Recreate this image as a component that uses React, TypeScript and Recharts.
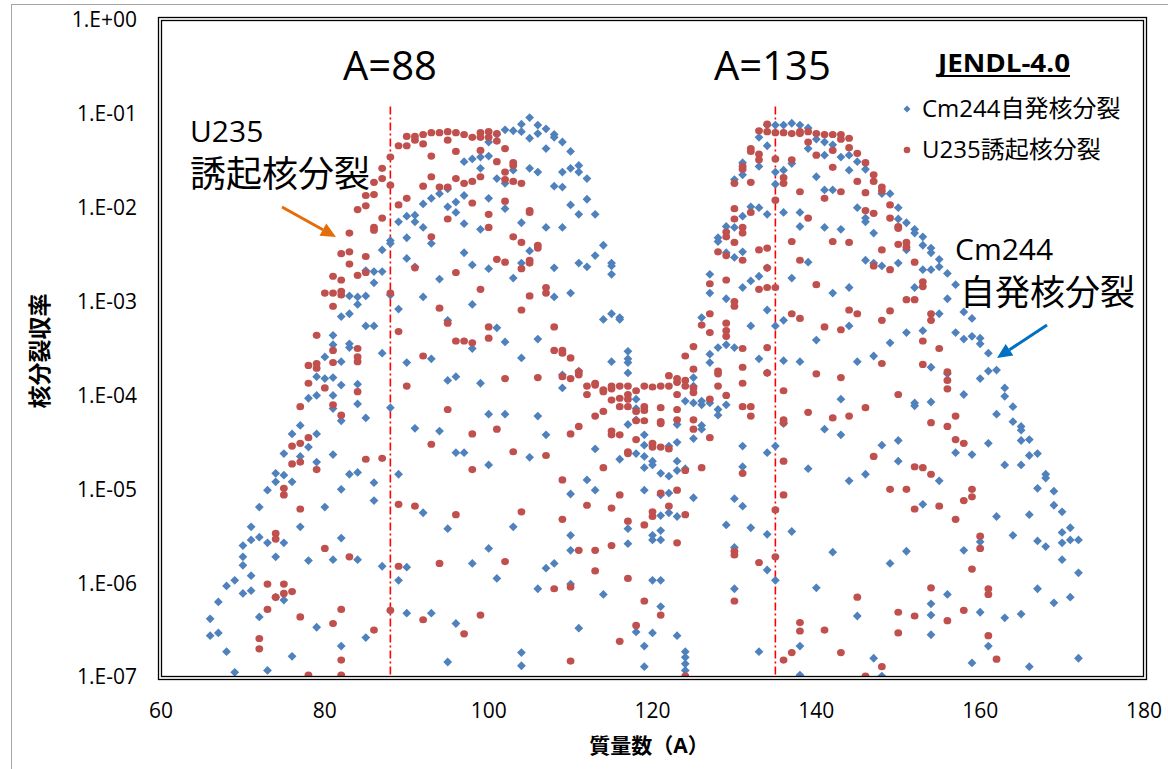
import React from 'react';
import { ScatterChart, Scatter, XAxis, YAxis, ReferenceLine } from 'recharts';

type Column = [number, number[]];

// log10 of the independent fission yield, grouped by mass number A
const cm244Light: Column[] = [
  [66, [-6.38, -6.56]],
  [67, [-6.20, -6.53]],
  [68, [-6.03, -6.73]],
  [69, [-5.97, -6.95]],
  [70, [-5.60, -5.72, -5.81, -6.11]],
  [71, [-5.40, -5.54, -5.92, -6.08]],
  [72, [-5.19, -5.51, -6.36]],
  [73, [-5.01, -5.57, -6.93]],
  [74, [-4.83, -4.92, -5.72, -6.15]],
  [75, [-4.62, -4.85, -5.57, -6.18]],
  [76, [-4.41, -4.92, -6.78]],
  [77, [-4.32, -4.65, -5.40]],
  [78, [-4.03, -4.55, -5.76]],
  [79, [-3.80, -4.00, -4.41, -4.71, -6.47]],
  [80, [-3.59, -3.82, -5.19]],
  [81, [-3.36, -3.46, -3.81, -4.00, -4.14, -4.63, -5.75]],
  [82, [-3.16, -3.64, -3.89, -4.27, -5.00, -5.52, -6.67]],
  [83, [-2.94, -3.13, -3.45, -3.49, -4.84]],
  [84, [-2.95, -3.03, -3.88, -4.09, -4.82, -5.75]],
  [85, [-2.67, -2.94, -3.26, -4.24, -6.58]],
  [86, [-2.68, -2.80, -3.26, -4.93, -5.12]],
  [87, [-2.45, -2.68, -3.55, -5.82]],
  [88, [-2.35, -2.38, -2.93, -4.13]],
  [89, [-2.15, -3.08, -4.84, -5.97]],
  [90, [-2.09, -2.32, -2.54, -3.65, -5.83, -6.32]],
  [91, [-2.08, -2.15, -2.63, -4.35]],
  [92, [-1.96, -2.21, -2.95, -5.25]],
  [93, [-1.90, -2.38, -3.61, -6.32]],
  [94, [-1.85, -2.76, -4.38]],
  [95, [-1.80, -1.99, -3.20, -3.84, -5.42, -6.84]],
  [96, [-1.94, -2.05, -3.80, -4.61, -6.43]],
  [97, [-1.51, -1.87, -2.17, -2.48, -4.61]],
  [98, [-1.48, -2.61, -3.03, -3.50, -5.79]],
  [99, [-1.46, -1.58, -2.23, -3.87]],
  [100, [-1.30, -1.45, -1.90, -2.65, -4.20, -4.74, -5.63]],
  [101, [-1.22, -1.69, -3.28, -5.95]],
  [102, [-1.17, -1.74, -2.01, -3.43, -4.20]],
  [103, [-1.18, -1.60, -2.75, -5.40]],
  [104, [-1.11, -1.19, -2.16, -2.59, -3.60, -6.74, -6.88]],
  [105, [-1.04, -1.26, -1.58, -2.46, -4.66]],
  [106, [-1.12, -1.21, -1.62, -3.40, -4.22, -6.06]],
  [107, [-1.16, -1.37, -2.21, -4.42, -5.84]],
  [108, [-1.22, -1.25, -1.77, -2.64, -2.95, -5.79]],
  [109, [-1.30, -1.62, -1.78, -2.21, -3.78, -3.92]],
  [110, [-1.40, -1.58, -1.97, -2.91, -5.05, -5.49, -5.65, -6.01]],
  [111, [-1.55, -1.62, -2.07, -2.59, -3.74, -6.48]],
  [112, [-1.69, -1.91, -2.63, -4.90]],
  [113, [-2.07, -2.51, -4.57, -5.01]],
  [114, [-2.40, -3.19, -6.12]],
  [115, [-2.59, -2.62, -2.71, -3.13, -3.64]],
  [116, [-3.17, -3.19, -4.68]],
  [117, [-3.53, -3.61, -3.65, -3.76, -4.31, -5.42, -5.58]],
  [118, [-4.04, -4.14, -4.26, -4.62, -6.52]],
];

const cm244Heavy: Column[] = [
  [119, [-4.42, -4.53, -4.65, -4.77, -5.01, -6.67, -6.89]],
  [120, [-4.70, -4.74, -5.49, -5.54, -5.97, -6.53]],
  [121, [-4.83, -5.06, -5.28, -5.44, -5.54, -5.97, -6.25]],
  [122, [-4.54, -4.86, -5.04, -5.25]],
  [123, [-4.31, -4.50, -4.70, -4.80, -5.29, -6.56]],
  [124, [-4.06, -4.78, -6.73, -6.79, -6.86, -6.93]],
  [125, [-3.81, -3.90, -4.08, -4.46, -5.09]],
  [126, [-3.17, -4.06, -4.10, -4.32, -4.36]],
  [127, [-2.71, -2.91, -3.56, -3.65, -4.08]],
  [128, [-2.32, -2.36, -3.49, -4.15, -4.21]],
  [129, [-2.20, -2.48, -2.97, -3.46, -4.10, -5.38]],
  [130, [-1.70, -2.21, -2.53, -3.49, -5.10, -5.62, -6.06]],
  [131, [-1.52, -1.65, -2.09, -2.47, -2.85, -4.54, -4.76, -5.18]],
  [132, [-1.99, -2.78, -3.26, -5.41]],
  [133, [-1.25, -1.56, -2.00, -2.73, -3.61, -6.73]],
  [134, [-1.12, -1.34, -2.07, -2.64, -3.09, -3.76, -4.61, -5.48, -5.86]],
  [135, [-1.12, -1.62, -1.75, -3.26, -4.54, -5.97]],
  [136, [-1.12, -1.60, -2.05, -3.20, -3.63, -4.30]],
  [137, [-1.10, -1.53, -2.75, -5.45]],
  [138, [-1.12, -2.05, -2.20, -3.64, -6.67, -6.98]],
  [139, [-1.15, -1.37, -2.58, -4.78]],
  [140, [-1.27, -1.67, -3.41, -6.05]],
  [141, [-1.30, -1.44, -1.81, -2.21, -4.36]],
  [142, [-1.33, -1.81, -2.91, -5.67]],
  [143, [-1.46, -2.23, -4.04, -4.42]],
  [144, [-1.44, -1.60, -2.85, -3.26, -4.91]],
  [145, [-1.51, -2.00, -3.64, -6.35]],
  [146, [-1.59, -2.11, -2.15, -2.56, -4.84]],
  [147, [-2.27, -2.59, -3.58, -6.80]],
  [148, [-1.85, -2.62, -4.53, -6.99]],
  [149, [-1.85, -3.44, -5.79]],
  [150, [-2.00, -2.12, -2.59, -4.48, -4.70]],
  [151, [-2.16, -2.45, -3.33, -5.66]],
  [152, [-2.23, -2.27, -2.85, -4.08, -4.11]],
  [153, [-2.31, -2.40, -2.66, -3.31, -5.16]],
  [154, [-2.43, -2.48, -2.66, -3.70, -4.07, -6.22, -6.34, -6.55]],
  [155, [-2.55, -2.63, -3.13, -4.91]],
  [156, [-2.70, -2.97, -3.77, -6.12]],
  [157, [-2.82, -3.33, -4.61]],
  [158, [-3.11, -3.40, -3.99, -5.65]],
  [159, [-3.18, -3.37, -4.63, -6.85]],
  [160, [-3.39, -3.45, -3.82, -5.56, -6.31]],
  [161, [-3.55, -3.74, -4.51, -6.67]],
  [162, [-3.73, -4.20, -5.29]],
  [163, [-3.92, -4.01, -4.74, -6.37]],
  [164, [-4.12, -4.28, -5.49]],
  [165, [-4.33, -4.37, -4.48, -4.74, -6.33]],
  [166, [-4.47, -4.64, -5.27, -6.89]],
  [167, [-4.62, -4.99, -5.55, -6.06]],
  [168, [-4.84, -4.88, -5.61]],
  [169, [-5.02, -5.17, -6.21]],
  [170, [-5.24, -5.46, -5.57, -5.75]],
  [171, [-5.41, -5.54, -6.15]],
  [172, [-5.54, -5.89, -6.80]],
];

const u235Light: Column[] = [
  [72, [-6.59, -6.70]],
  [73, [-6.01, -6.28]],
  [74, [-5.47, -5.53, -6.15]],
  [75, [-4.99, -5.06, -6.01, -6.11]],
  [76, [-4.54, -4.73, -6.09]],
  [77, [-4.12, -4.51, -4.71, -5.21, -6.36]],
  [78, [-3.68, -3.87, -4.45, -6.98]],
  [79, [-3.36, -3.66, -3.71, -4.79]],
  [80, [-2.91, -3.92, -5.63]],
  [81, [-2.73, -2.91, -3.05, -3.52, -3.65, -4.10, -6.43]],
  [82, [-2.49, -2.77, -2.89, -2.93, -4.21, -6.28, -6.82, -6.98]],
  [83, [-2.27, -2.47, -2.60, -5.72]],
  [84, [-2.02, -2.72, -3.50, -3.59, -3.64, -3.96]],
  [85, [-1.87, -1.98, -2.52, -2.69, -4.68]],
  [86, [-1.73, -1.86, -2.21, -2.24, -6.50]],
  [87, [-1.58, -1.69, -2.11, -4.67]],
  [88, [-1.46, -1.76, -2.91, -6.29]],
  [89, [-1.34, -1.97, -3.32, -5.16, -5.82]],
  [90, [-1.24, -1.34, -1.90, -3.90]],
  [91, [-1.24, -1.28, -2.64, -5.18]],
  [92, [-1.22, -1.32, -1.77, -3.58, -6.39]],
  [93, [-1.20, -1.45, -1.67, -2.31, -4.52]],
  [94, [-1.20, -1.78, -3.07, -5.79]],
  [95, [-1.19, -1.28, -1.78, -2.12, -3.23, -4.15]],
  [96, [-1.20, -1.40, -1.69, -2.69, -3.42, -5.27]],
  [97, [-1.22, -1.74, -3.42, -6.54]],
  [98, [-1.25, -1.72, -1.95, -3.44, -4.41, -4.79]],
  [99, [-1.20, -1.25, -1.39, -1.67, -2.87, -6.34]],
  [100, [-1.19, -1.25, -2.07, -2.21, -3.27, -3.39]],
  [101, [-1.21, -1.29, -1.51, -2.55, -4.36]],
  [102, [-1.37, -1.62, -1.70, -1.93, -2.58, -3.82, -5.77]],
  [103, [-1.52, -1.55, -1.72, -2.31, -4.60]],
  [104, [-1.74, -2.37, -2.65, -3.09, -5.24]],
  [105, [-2.03, -2.05, -2.56, -2.59, -2.94]],
  [106, [-2.40, -2.43, -3.81]],
  [107, [-2.85, -2.91, -4.64]],
  [108, [-3.27, -3.52, -6.06]],
  [109, [-3.52, -3.55, -3.80, -4.90, -5.32]],
  [110, [-3.60, -3.82, -4.41, -6.04, -6.83]],
  [111, [-3.75, -3.78, -4.33, -5.65]],
  [112, [-3.90, -3.99, -5.17]],
  [113, [-3.87, -3.89, -4.22, -5.65, -5.87]],
  [114, [-3.94, -3.96, -4.17, -4.77]],
  [115, [-3.90, -3.93, -4.05, -4.38, -4.42, -5.20, -5.60]],
  [116, [-3.90, -4.03, -4.12, -4.42, -5.06, -6.62]],
  [117, [-3.90, -3.99, -4.04, -4.12, -4.60, -4.62, -5.34, -5.95]],
  [118, [-3.95, -4.17, -4.27, -4.47, -6.45]],
];

const u235Heavy: Column[] = [
  [119, [-3.90, -4.12, -4.16, -4.27, -5.38, -6.19]],
  [120, [-3.91, -4.51, -4.55, -5.24, -5.29]],
  [121, [-3.90, -4.13, -4.28, -4.30, -4.55, -5.04, -6.34]],
  [122, [-3.79, -3.90, -4.57, -5.18]],
  [123, [-3.82, -3.86, -3.99, -4.15, -4.26, -5.01, -5.57]],
  [124, [-3.58, -3.84, -3.90, -4.80, -5.27, -6.99]],
  [125, [-3.48, -3.72, -3.92, -3.97, -4.26, -4.36]],
  [126, [-3.25, -4.77]],
  [127, [-2.81, -3.13, -3.33, -4.04, -4.45]],
  [128, [-2.47, -3.74, -3.77, -3.90]],
  [129, [-2.26, -2.31, -2.51, -2.77, -3.23, -3.31, -3.37, -4.00]],
  [130, [-1.74, -2.01, -2.12, -2.37, -3.00, -3.05, -5.66, -5.70, -6.19]],
  [131, [-1.56, -1.59, -2.21, -2.27, -2.56, -3.50, -3.70, -3.87, -4.12, -4.83]],
  [132, [-1.37, -1.40, -1.73, -2.05, -4.12, -4.22]],
  [133, [-1.18, -1.43, -1.49, -2.45, -2.87, -5.78]],
  [134, [-1.11, -1.19, -2.43, -2.64, -2.85, -3.49, -3.76]],
  [135, [-1.20, -1.48, -1.92, -2.85, -5.22, -5.72]],
  [136, [-1.20, -1.68, -1.74, -3.95, -4.26, -4.29, -4.70, -5.06, -6.82]],
  [137, [-1.21, -1.49, -2.36, -3.13, -6.74]],
  [138, [-1.19, -1.21, -1.83, -2.56, -3.18, -6.42, -6.51]],
  [139, [-1.19, -1.30, -2.11, -4.18]],
  [140, [-1.21, -1.44, -2.82, -3.77]],
  [141, [-1.22, -1.90, -3.27, -6.50]],
  [142, [-1.22, -1.39, -1.57, -2.36, -4.24]],
  [143, [-1.22, -1.27, -1.83, -3.30, -3.81, -6.74]],
  [144, [-1.26, -1.36, -2.37, -3.09, -4.22]],
  [145, [-1.42, -1.72, -3.13, -6.15]],
  [146, [-1.52, -1.84, -2.03, -4.13, -6.99]],
  [147, [-1.65, -1.72, -2.06, -2.62, -4.65]],
  [148, [-1.78, -1.82, -2.45, -3.20, -3.66, -6.89]],
  [149, [-1.97, -2.11, -2.66, -3.10, -5.00]],
  [150, [-2.20, -2.22, -2.39, -3.99, -6.31, -6.53]],
  [151, [-2.37, -2.42, -2.98, -5.00]],
  [152, [-2.58, -2.98, -4.76, -5.21, -6.35]],
  [153, [-2.79, -2.84, -3.42, -3.67, -4.77]],
  [154, [-3.13, -3.20, -4.29, -4.84, -6.05]],
  [155, [-3.50, -5.18]],
  [156, [-3.75, -3.84, -3.93, -4.33, -6.40]],
  [157, [-4.22, -4.47, -5.32]],
  [158, [-4.51, -5.12, -6.29]],
  [159, [-5.00, -5.08, -5.85]],
  [160, [-5.50, -5.63]],
  [161, [-6.06, -6.12, -6.56]],
  [162, [-6.81]],
];

const xTicks = [60, 80, 100, 120, 140, 160, 180];
const yTicks = [1, 1e-1, 1e-2, 1e-3, 1e-4, 1e-5, 1e-6, 1e-7];
const peakMasses = [88, 135];

const FONT = "'Open Sans', 'Noto Sans CJK JP', sans-serif";
const BLUE = '#4F81BD';
const RED = '#C0504D';

const toPoints = (cols: Column[]) =>
  cols.flatMap(([a, exps]) => exps.map((e) => ({ a, y: Math.pow(10, e) })));

const cmPoints = toPoints([...cm244Light, ...cm244Heavy]);
const uPoints = toPoints([...u235Light, ...u235Heavy]);

// Excel style "1.E-03" tick labels
const fmtExp = (v: number) => {
  const e = Math.round(Math.log10(v));
  const s = e >= 0 ? '+' : '-';
  return `1.E${s}${String(Math.abs(e)).padStart(2, '0')}`;
};

const Diamond = (props: any) => {
  const { cx, cy } = props;
  const r = 4.4;
  return <path d={`M${cx},${cy - r}L${cx + r},${cy}L${cx},${cy + r}L${cx - r},${cy}Z`} fill={BLUE} />;
};

const Dot = (props: any) => <ellipse cx={props.cx} cy={props.cy} rx={3.9} ry={3.6} fill={RED} />;

// straight arrow with a filled triangular head
const Arrow = ({ x1, y1, x2, y2, color }: { x1: number; y1: number; x2: number; y2: number; color: string }) => {
  const dx = x2 - x1;
  const dy = y2 - y1;
  const len = Math.sqrt(dx * dx + dy * dy);
  const ux = dx / len;
  const uy = dy / len;
  const hl = 15;
  const hw = 7;
  const bx = x2 - ux * hl;
  const by = y2 - uy * hl;
  return (
    <g>
      <line x1={x1} y1={y1} x2={bx} y2={by} stroke={color} strokeWidth={3} />
      <polygon
        points={`${x2},${y2} ${bx - uy * hw},${by + ux * hw} ${bx + uy * hw},${by - ux * hw}`}
        fill={color}
      />
    </g>
  );
};

const App = () => {
  return (
    <div style={{ position: 'absolute', left: 0, top: 0, width: 1168, height: 769, overflow: 'hidden', background: '#fff' }}>
      <ScatterChart width={1168} height={769} margin={{ top: 20, right: 24, bottom: 52, left: 0 }}>
        <XAxis
          type="number"
          dataKey="a"
          domain={[60, 180]}
          ticks={xTicks}
          allowDataOverflow
          axisLine={false}
          tickLine={false}
          tickMargin={20}
          height={40}
          tick={{ fontSize: 21, fill: '#000', fontFamily: FONT }}
        />
        <YAxis
          type="number"
          dataKey="y"
          scale="log"
          domain={[1e-7, 1]}
          ticks={yTicks}
          allowDataOverflow
          axisLine={false}
          tickLine={false}
          tickMargin={18}
          width={161}
          tickFormatter={fmtExp}
          tick={{ fontSize: 21, fill: '#000', fontFamily: FONT }}
        />
        {peakMasses.map((a) => (
          <ReferenceLine
            key={a}
            segment={[{ x: a, y: 0.12 }, { x: a, y: 1e-7 }]}
            stroke="#FF0000"
            strokeWidth={1.6}
            strokeDasharray="8 3 2 3"
          />
        ))}
        <Scatter data={cmPoints} shape={Diamond} isAnimationActive={false} />
        <Scatter data={uPoints} shape={Dot} isAnimationActive={false} />
      </ScatterChart>

      <svg width={1168} height={769} style={{ position: 'absolute', left: 0, top: 0, pointerEvents: 'none' }}>
        {/* chart area border */}
        <rect x={11.5} y={4.5} width={1180} height={790} fill="none" stroke="#A6A6A6" strokeWidth={1} />
        {/* double plot frame */}
        <rect x={158.5} y={17.5} width={988} height={662} fill="none" stroke="#000" strokeWidth={1.3} />
        <rect x={161.5} y={20.5} width={982} height={656} fill="none" stroke="#000" strokeWidth={1.3} />

        <text x={343} y={80} fontSize={40} fontFamily={FONT} fill="#000">A=88</text>
        <text x={714} y={80} fontSize={40} fontFamily={FONT} fill="#000">A=135</text>

        <text x={190} y={142} fontSize={30} fontFamily={FONT} fill="#000">U235</text>
        <text x={190} y={187} fontSize={36} fontFamily={FONT} fill="#000">誘起核分裂</text>
        <Arrow x1={282} y1={207} x2={336} y2={237} color="#E46C0A" />

        <text x={955} y={260} fontSize={30} fontFamily={FONT} fill="#000">Cm244</text>
        <text x={960} y={305} fontSize={35} fontFamily={FONT} fill="#000">自発核分裂</text>
        <Arrow x1={1047} y1={325} x2={997} y2={358} color="#0070C0" />

        {/* legend */}
        <text
          x={938}
          y={72}
          fontSize={25}
          fontWeight={700}
          fontFamily={FONT}
          fill="#000"
          textLength={132}
          lengthAdjust="spacingAndGlyphs"
        >
          JENDL-4.0
        </text>
        <line x1={938} y1={76} x2={1070} y2={76} stroke="#000" strokeWidth={2} />
        <path d="M907,105.5L910.5,109L907,112.5L903.5,109Z" fill={BLUE} />
        <text x={922} y={117} fontSize={24} fontFamily={FONT} fill="#000">Cm244自発核分裂</text>
        <circle cx={907} cy={150} r={3.3} fill={RED} />
        <text x={922} y={158} fontSize={24} fontFamily={FONT} fill="#000">U235誘起核分裂</text>

        {/* axis titles */}
        <text
          transform="translate(39,351) rotate(-90)"
          textAnchor="middle"
          dominantBaseline="central"
          fontSize={23}
          fontWeight={700}
          fontFamily={FONT}
          fill="#000"
        >
          核分裂収率
        </text>
        <text x={649} y={753} textAnchor="middle" fontSize={21} fontWeight={700} fontFamily={FONT} fill="#000">
          質量数（A）
        </text>
      </svg>
    </div>
  );
};

export default App;
